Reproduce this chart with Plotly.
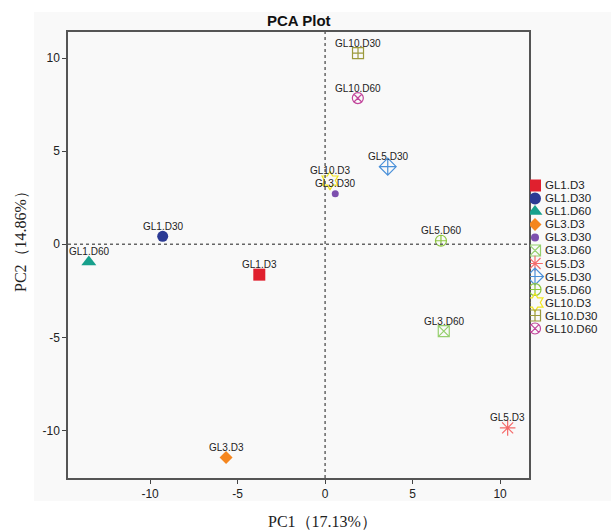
import plotly.graph_objects as go

W, H = 611, 531

samples = ["GL1.D3", "GL1.D30", "GL1.D60", "GL3.D3", "GL3.D30", "GL3.D60",
           "GL5.D3", "GL5.D30", "GL5.D60", "GL10.D3", "GL10.D30", "GL10.D60"]
pc1 = [-3.76, -9.28, -13.5, -5.66, 0.58, 6.78, 10.43, 3.58, 6.62, 0.28, 1.88, 1.87]
pc2 = [-1.63, 0.43, -0.95, -11.45, 2.72, -4.66, -9.86, 4.17, 0.19, 3.42, 10.27, 7.85]
symbols = ["square", "circle", "triangle-up", "diamond", "circle", "square-x-open",
           "asterisk-open", "diamond-cross-open", "circle-cross-open", "hexagram-open",
           "square-cross-open", "circle-x-open"]
colors = ["#e0202e", "#2b3a94", "#17a08c", "#f5861f", "#7d4fae", "#96cf6e",
          "#f56a6a", "#4a90d9", "#8cc63f", "#f2e61e", "#9c9a3c", "#c2449b"]
sizes = [12, 11, 13, 10, 7, 11, 13, 13, 11, 14, 11, 11]
leg_sizes = [12, 12, 13, 10, 8, 11, 13, 13, 12, 14, 11, 11]

tick_vals = [-10, -5, 0, 5, 10]
tick_text = ["-10", "-5", "0", "5", "10"]
x_range = [-14.69, 11.65]
y_range = [-12.55, 11.4]

# pixel layout
px_l, px_r, px_t, px_b = 68, 529, 32, 478

fig = go.Figure()

for i, s in enumerate(samples):
    open_sym = symbols[i].endswith("open")
    fig.add_trace(go.Scatter(
        x=[pc1[i]], y=[pc2[i]], mode="markers", name=s, showlegend=False,
        marker=dict(symbol=symbols[i], size=sizes[i], color=colors[i], opacity=1,
                    line=dict(width=1.2 if open_sym else 0, color=colors[i])),
        xaxis="x", yaxis="y"))
    fig.add_annotation(x=pc1[i], y=pc2[i], xref="x", yref="y", text=s,
                       showarrow=False, yshift=10, xanchor="center", yanchor="middle",
                       font=dict(family="Liberation Sans, Arial", size=10, color="#222"))

# custom compact legend
n = len(samples)
leg_idx = list(range(n))
fig.add_trace(go.Scatter(
    x=[0] * n, y=leg_idx, mode="markers", showlegend=False, hoverinfo="skip",
    marker=dict(symbol=symbols, size=leg_sizes, color=colors, opacity=1,
                line=dict(width=[1.2 if s.endswith("open") else 0 for s in symbols], color=colors)),
    xaxis="x2", yaxis="y2"))
for i, s in enumerate(samples):
    fig.add_annotation(x=0, y=leg_idx[i], xref="x2", yref="y2", text=s, showarrow=False,
                       xanchor="left", yanchor="middle", xshift=9, borderpad=0,
                       font=dict(family="Liberation Sans, Arial", size=11.5, color="#222"))

# background panel
fig.add_shape(type="rect", xref="paper", yref="paper",
              x0=34 / W, x1=1, y0=(H - 501) / H, y1=(H - 12) / H,
              fillcolor="#f9f9f9", line=dict(width=0), layer="below")

# dotted zero lines
fig.add_shape(type="line", xref="x", yref="y domain", x0=0, x1=0, y0=0, y1=1,
              line=dict(color="#666", width=1.5, dash="dot"))
fig.add_shape(type="line", xref="x domain", yref="y", x0=0, x1=1, y0=0, y1=0,
              line=dict(color="#666", width=1.5, dash="dot"))

axis_common = dict(showgrid=False, zeroline=False, showline=True, mirror=True,
                   linecolor="#555", linewidth=1.5, ticks="outside", ticklen=4,
                   tickcolor="#444", tickfont=dict(family="Liberation Sans, Arial", size=12, color="#222"))

fig.update_layout(
    width=W, height=H,
    margin=dict(l=0, r=0, t=0, b=0),
    paper_bgcolor="white", plot_bgcolor="#fafafa",
    xaxis=dict(domain=[px_l / W, px_r / W], range=x_range, tickvals=tick_vals,
               ticktext=tick_text, anchor="y", **axis_common),
    yaxis=dict(domain=[(H - px_b) / H, (H - px_t) / H], range=y_range, tickvals=tick_vals,
               ticktext=tick_text, anchor="x", **axis_common),
    xaxis2=dict(domain=[530 / W, 1], range=[-5, 76], visible=False, anchor="y2"),
    yaxis2=dict(domain=[(H - 335) / H, (H - 179) / H], range=[n - 0.5, -0.5],
                visible=False, anchor="x2"),
)

# titles
fig.add_annotation(x=(px_l + px_r) / 2 / W, y=(H - 21) / H, xref="paper", yref="paper",
                   text="<b>PCA Plot</b>", showarrow=False, xanchor="center", yanchor="middle",
                   font=dict(family="Liberation Sans, Arial", size=15, color="#111"))
fig.add_annotation(x=322 / W, y=(H - 521) / H, xref="paper", yref="paper",
                   text="PC1（17.13%）", showarrow=False, xanchor="center", yanchor="middle",
                   font=dict(family="Liberation Serif, Times New Roman", size=16, color="#222"))
fig.add_annotation(x=20 / W, y=(H - 238) / H, xref="paper", yref="paper",
                   text="PC2（14.86%）", showarrow=False, textangle=-90,
                   xanchor="center", yanchor="middle",
                   font=dict(family="Liberation Serif, Times New Roman", size=16, color="#222"))

fig.write_html("out.html")
